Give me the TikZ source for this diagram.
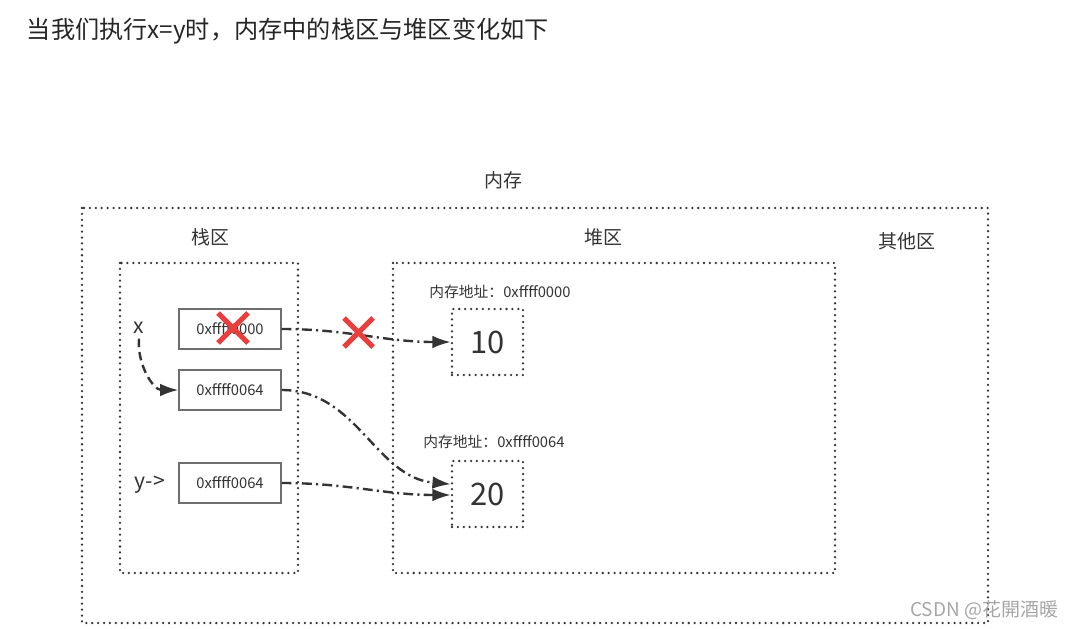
\documentclass[tikz,border=0pt]{standalone}
\usepackage{fontspec}
\setmainfont{Noto Sans CJK SC}
\usetikzlibrary{arrows.meta}

\definecolor{txtgray}{RGB}{51,51,51}
\definecolor{boxgray}{RGB}{110,110,110}
\definecolor{crossred}{RGB}{232,62,62}

\tikzset{
  zone/.style={draw=black!80, line width=1.8pt, dash pattern=on 0pt off 4.2pt, line cap=round},
  ptrbox/.style={draw=boxgray, line width=0.8pt, minimum width=2.55cm, minimum height=1cm,
    text=txtgray, font=\fontsize{10.5pt}{12pt}\selectfont},
  valbox/.style={zone, minimum width=1.775cm, minimum height=1.65cm,
    text=txtgray, font=\fontsize{22pt}{26pt}\selectfont},
  zonelabel/.style={text=txtgray, font=\fontsize{13.5pt}{16pt}\selectfont},
  addrlabel/.style={text=txtgray, font=\fontsize{10.5pt}{12pt}\selectfont},
  link/.style={draw=black!80, line width=1.7pt, dash pattern=on 7pt off 3pt on 1.5pt off 3pt,
    -{Latex[length=13pt,width=9pt]}},
  cross/.style={draw=crossred, line width=3.6pt}
}

\begin{document}
\begin{tikzpicture}[x=0.025cm, y=-0.025cm]
    \useasboundingbox (0,0) rectangle (1076,629);

    \node[anchor=west, text=black!85, font=\fontsize{17.2pt}{20pt}\selectfont] (title) at (22,31)
      {当我们执行x=y时，内存中的栈区与堆区变化如下};

    % memory
    \node[zonelabel] (mem) at (503,180) {内存};
    \draw[zone] (82,208) rectangle (988,623);
    \node[zonelabel] (other) at (907,241) {其他区};

    % stack
    \node[zonelabel] (stack) at (210,237) {栈区};
    \draw[zone] (120,263) rectangle (298,573);
    \node[ptrbox] (p1) at (230,329) {0xffff0000};
    \node[ptrbox] (p2) at (230,390) {0xffff0064};
    \node[ptrbox] (p3) at (230,483) {0xffff0064};
    \node[zonelabel, font=\fontsize{15pt}{18pt}\selectfont] (x) at (139,328) {x};
    \node[zonelabel, font=\fontsize{15pt}{18pt}\selectfont] (y) at (150,485) {y->};

    % heap
    \node[zonelabel] (heap) at (603,237) {堆区};
    \draw[zone] (393,263) rectangle (835,573);
    \node[addrlabel] (a1) at (500,292) {内存地址：0xffff0000};
    \node[valbox] (v1) at (487.5,342) {10};
    \node[addrlabel] (a2) at (494,442) {内存地址：0xffff0064};
    \node[valbox] (v2) at (487.5,494) {20};

    % pointers
    \draw[link] (p1.east) to[out=0, in=180] (v1.west);
    \draw[link] (p2.east) to[out=0, in=175] ([yshift=7pt]v2.west);
    \draw[link] (p3.east) to[out=0, in=180] ([yshift=-0.7pt]v2.west);
    \draw[draw=black!80, line width=1.7pt, dash pattern=on 6pt off 3.5pt, -{Latex[length=13pt,width=9pt]}]
      (x.south) to[out=-95, in=180] (p2.west);

    % crosses
    \draw[cross] (218,313) -- (248,343) (248,313) -- (218,343);
    \draw[cross] (344,318) -- (373,347) (373,318) -- (344,347);

    \node[anchor=east, text=black!35, font=\fontsize{13.5pt}{15pt}\selectfont] (mark) at (1063,610) {CSDN @花開酒暖};
\end{tikzpicture}
\end{document}
